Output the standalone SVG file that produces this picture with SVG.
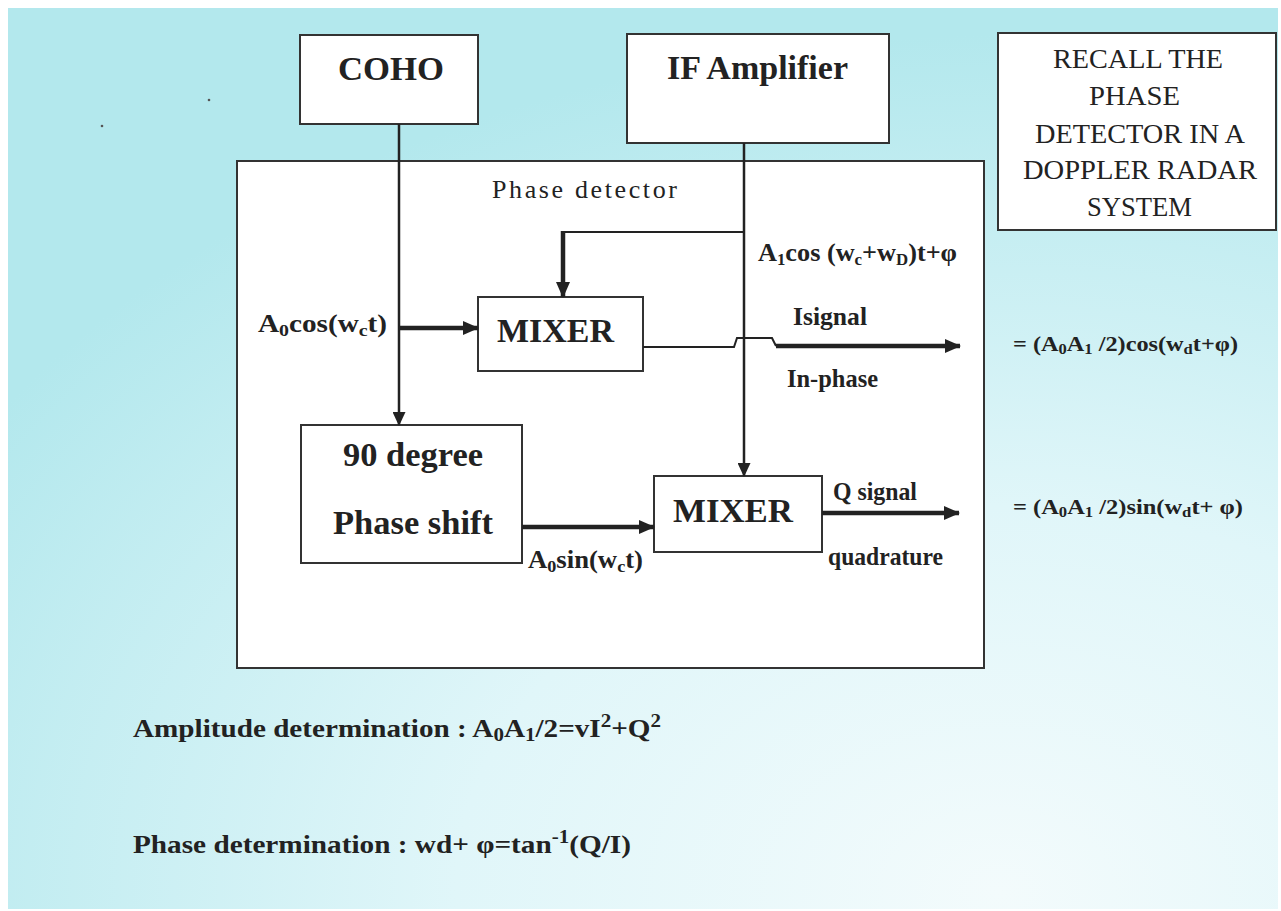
<svg xmlns="http://www.w3.org/2000/svg" width="1281" height="911" viewBox="0 0 1281 911">
<defs>
<radialGradient id="bg" cx="0.78" cy="0.98" r="0.95" gradientUnits="objectBoundingBox">
<stop offset="0" stop-color="#f3fbfc"/>
<stop offset="0.45" stop-color="#e0f6f9"/>
<stop offset="1" stop-color="#b3e8ed"/>
</radialGradient>
<marker id="ah" markerUnits="userSpaceOnUse" markerWidth="16" markerHeight="14" refX="15" refY="7" orient="auto">
<path d="M0,0 L16,7 L0,14 Z" fill="#222"/>
</marker>
<marker id="ahs" markerUnits="userSpaceOnUse" markerWidth="14" markerHeight="13" refX="13" refY="6.5" orient="auto">
<path d="M0,0 L14,6.5 L0,13 Z" fill="#222"/>
</marker>
</defs>
<style>
.box{fill:#fff;stroke:#333;stroke-width:2}
.t{font-family:"Liberation Serif","Times New Roman",serif;fill:#222}
.b{font-weight:bold}
.big{font-size:33px;font-weight:bold}
.lbl{font-size:25px;font-weight:bold}
.thin{fill:none;stroke:#222;stroke-width:2}
.mid{fill:none;stroke:#222;stroke-width:2.5}
.thick{fill:none;stroke:#222;stroke-width:4.5}
.rc{font-size:27px}
</style>
<rect x="0" y="0" width="1281" height="911" fill="#fff"/>
<rect x="8" y="8" width="1270" height="901" fill="url(#bg)"/>
<circle cx="209" cy="100" r="1.3" fill="#555"/>
<circle cx="102" cy="126" r="1.3" fill="#555"/>

<g id="phase-detector">
<rect class="box" x="237" y="161" width="747" height="507"/>
<text class="t" x="492" y="198" font-size="26" textLength="185" lengthAdjust="spacing">Phase detector</text>
</g>

<g id="coho">
<rect class="box" x="300" y="35" width="178" height="89"/>
<text class="t big" x="338" y="80" textLength="106" lengthAdjust="spacingAndGlyphs">COHO</text>
</g>

<g id="if-amplifier">
<rect class="box" x="627" y="34" width="262" height="109"/>
<text class="t big" x="667" y="79" textLength="181" lengthAdjust="spacingAndGlyphs">IF Amplifier</text>
</g>

<g id="recall">
<rect class="box" x="998" y="33" width="278" height="197"/>
<text class="t rc" x="1053" y="68" textLength="170" lengthAdjust="spacingAndGlyphs">RECALL THE</text>
<text class="t rc" x="1089" y="105" textLength="91" lengthAdjust="spacingAndGlyphs">PHASE</text>
<text class="t rc" x="1035" y="143" textLength="210" lengthAdjust="spacingAndGlyphs">DETECTOR IN A</text>
<text class="t rc" x="1023" y="179" textLength="234" lengthAdjust="spacingAndGlyphs">DOPPLER RADAR</text>
<text class="t rc" x="1087" y="216" textLength="105" lengthAdjust="spacingAndGlyphs">SYSTEM</text>
</g>

<g id="mixer1">
<rect class="box" x="478" y="297" width="165" height="74"/>
<text class="t big" x="497" y="342" textLength="117" lengthAdjust="spacingAndGlyphs">MIXER</text>
</g>

<g id="phase-shift">
<rect class="box" x="301" y="425" width="221" height="138"/>
<text class="t big" x="343" y="466" textLength="140" lengthAdjust="spacingAndGlyphs">90 degree</text>
<text class="t big" x="333" y="534" textLength="160" lengthAdjust="spacingAndGlyphs">Phase shift</text>
</g>

<g id="mixer2">
<rect class="box" x="654" y="476" width="168" height="76"/>
<text class="t big" x="673" y="522" textLength="120" lengthAdjust="spacingAndGlyphs">MIXER</text>
</g>

<g id="connectors">
<line class="mid" x1="399" y1="124" x2="399" y2="425" marker-end="url(#ahs)"/>
<line class="thick" x1="399" y1="328" x2="478" y2="328" marker-end="url(#ah)"/>
<line class="mid" x1="744" y1="143" x2="744" y2="476" marker-end="url(#ahs)"/>
<polyline class="thin" points="744,232 563,232 563,240"/>
<line class="thick" x1="563" y1="231" x2="563" y2="297" marker-end="url(#ah)"/>
<path class="thin" d="M643,347 H734 L737,338 H772 L776,346"/>
<line class="thick" x1="776" y1="346" x2="960" y2="346" marker-end="url(#ah)"/>
<line class="thick" x1="522" y1="527" x2="654" y2="527" marker-end="url(#ah)"/>
<line class="thick" x1="822" y1="513" x2="959" y2="513" marker-end="url(#ah)"/>
</g>

<g id="labels">
<text class="t lbl" x="258" y="332" textLength="129" lengthAdjust="spacingAndGlyphs">A<tspan font-size="17" dy="4">0</tspan><tspan dy="-4">cos(w</tspan><tspan font-size="17" dy="4">c</tspan><tspan dy="-4">t)</tspan></text>
<text class="t lbl" x="758" y="261" font-size="23" textLength="199" lengthAdjust="spacingAndGlyphs">A<tspan font-size="16" dy="4">1</tspan><tspan dy="-4">cos (w</tspan><tspan font-size="16" dy="4">c</tspan><tspan dy="-4">+w</tspan><tspan font-size="16" dy="4">D</tspan><tspan dy="-4">)t+φ</tspan></text>
<text class="t lbl" x="793" y="325" textLength="74" lengthAdjust="spacingAndGlyphs">Isignal</text>
<text class="t lbl" x="787" y="387" font-size="24" textLength="91" lengthAdjust="spacingAndGlyphs">In-phase</text>
<text class="t lbl" x="528" y="568" textLength="115" lengthAdjust="spacingAndGlyphs">A<tspan font-size="17" dy="4">0</tspan><tspan dy="-4">sin(w</tspan><tspan font-size="17" dy="4">c</tspan><tspan dy="-4">t)</tspan></text>
<text class="t lbl" x="833" y="500" font-size="23" textLength="84" lengthAdjust="spacingAndGlyphs">Q signal</text>
<text class="t lbl" x="828" y="565" font-size="23" textLength="115" lengthAdjust="spacingAndGlyphs">quadrature</text>
<text class="t b" x="1013" y="351" font-size="22" textLength="225" lengthAdjust="spacingAndGlyphs">= (A<tspan font-size="15" dy="3">0</tspan><tspan dy="-3">A</tspan><tspan font-size="15" dy="3">1</tspan><tspan dy="-3"> /2)cos(w</tspan><tspan font-size="15" dy="3">d</tspan><tspan dy="-3">t+φ)</tspan></text>
<text class="t b" x="1013" y="514" font-size="22" textLength="230" lengthAdjust="spacingAndGlyphs">= (A<tspan font-size="15" dy="3">0</tspan><tspan dy="-3">A</tspan><tspan font-size="15" dy="3">1</tspan><tspan dy="-3"> /2)sin(w</tspan><tspan font-size="15" dy="3">d</tspan><tspan dy="-3">t+ φ)</tspan></text>
<text class="t lbl" x="133" y="737" font-size="27" textLength="528" lengthAdjust="spacingAndGlyphs">Amplitude determination : A<tspan font-size="18" dy="4">0</tspan><tspan dy="-4">A</tspan><tspan font-size="18" dy="4">1</tspan><tspan dy="-4">/2=vI</tspan><tspan font-size="18" dy="-10">2</tspan><tspan dy="10">+Q</tspan><tspan font-size="18" dy="-10">2</tspan></text>
<text class="t lbl" x="133" y="853" font-size="27" textLength="498" lengthAdjust="spacingAndGlyphs">Phase determination : wd+ φ=tan<tspan font-size="18" dy="-10">-1</tspan><tspan dy="10">(Q/I)</tspan></text>
</g>
</svg>
